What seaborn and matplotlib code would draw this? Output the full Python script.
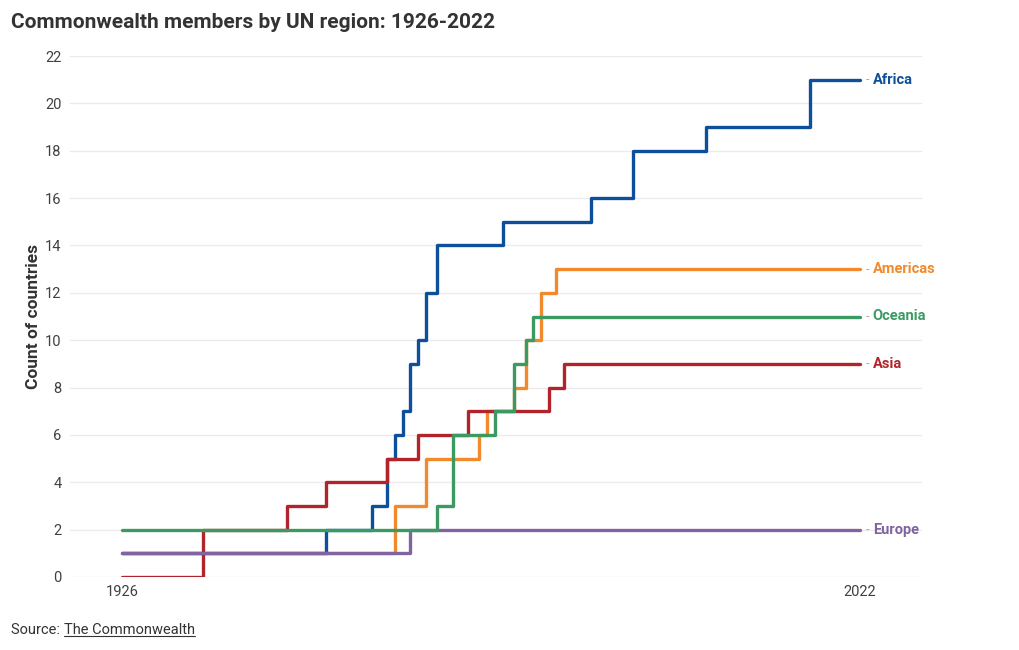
import matplotlib
matplotlib.use("Agg")
import matplotlib.pyplot as plt
import seaborn as sns
import pandas as pd
from matplotlib.lines import Line2D

# ---- data ----
years = [1926, 1947, 1948, 1957, 1960, 1961, 1962, 1963, 1964, 1965, 1966, 1968,
         1970, 1972, 1973, 1974, 1975, 1976, 1978, 1979, 1980, 1981, 1982, 1983,
         1984, 1990, 1995, 2009, 2022]
africa   = [1, 1, 1, 2, 3, 5, 6, 7, 9, 10, 12, 14, 14, 14, 14, 14, 14, 15, 15, 15,
            15, 15, 15, 15, 15, 16, 18, 19, 21]
americas = [1, 1, 1, 1, 1, 1, 3, 3, 3, 3, 5, 5, 5, 5, 6, 7, 7, 7, 8, 10, 10, 12,
            12, 13, 13, 13, 13, 13, 13]
oceania  = [2, 2, 2, 2, 2, 2, 2, 2, 2, 2, 2, 3, 6, 6, 6, 6, 7, 7, 9, 10, 11, 11,
            11, 11, 11, 11, 11, 11, 11]
asia     = [0, 2, 3, 4, 4, 5, 5, 5, 5, 6, 6, 6, 6, 7, 7, 7, 7, 7, 7, 7, 7, 7, 8,
            8, 9, 9, 9, 9, 9]
europe   = [1, 1, 1, 1, 1, 1, 1, 1, 2, 2, 2, 2, 2, 2, 2, 2, 2, 2, 2, 2, 2, 2, 2,
            2, 2, 2, 2, 2, 2]
regions = ["Africa", "Americas", "Oceania", "Asia", "Europe"]
series = [africa, americas, oceania, asia, europe]
draw_order = ["Africa", "Americas", "Asia", "Europe", "Oceania"]
y_ticks = [0, 2, 4, 6, 8, 10, 12, 14, 16, 18, 20, 22]
x_ticks = [1926, 2022]
title = "Commonwealth members by UN region: 1926-2022"
y_label = "Count of countries"

colors = {"Africa": "#0d4f9b", "Americas": "#f08a2c", "Oceania": "#3a9a62",
          "Asia": "#b2242b", "Europe": "#8064a0"}

rows = []
for name, vals in zip(regions, series):
    for yr, v in zip(years, vals):
        rows.append({"year": yr, "count": v, "region": name})
df = pd.DataFrame(rows)

sns.set_theme(style="white")
plt.rcParams["font.family"] = ["Roboto", "DejaVu Sans"]

fig = plt.figure(figsize=(10.2, 6.5), dpi=100)
ax = fig.add_axes([70 / 1020, 73 / 650, (922 - 70) / 1020, (577 - 56) / 650])

sns.lineplot(data=df, x="year", y="count", hue="region", palette=colors,
             hue_order=draw_order, estimator=None, drawstyle="steps-mid",
             linewidth=2.4, legend=False, ax=ax, zorder=3)

ax.set_xlim(1919.2, 2030.1)
ax.set_ylim(0, 22)
ax.set_yticks(y_ticks)
ax.set_xticks(x_ticks)
ax.set_xticklabels([str(t) for t in x_ticks])
ax.grid(axis="y", color="#ebebeb", linewidth=1)
ax.grid(axis="x", visible=False)
for s in ax.spines.values():
    s.set_visible(False)
ax.tick_params(axis="both", length=0, labelsize=10.5, labelcolor="#404040")
ax.tick_params(axis="y", pad=6)
ax.tick_params(axis="x", pad=6)
ax.set_xlabel("")
ax.set_ylabel(y_label, fontsize=12.5, fontweight="bold", color="#333333", labelpad=3)

# end labels
for name, vals in zip(regions, series):
    ax.annotate("-", xy=(years[-1], vals[-1]), xytext=(6, 0), textcoords="offset pixels",
                va="center", ha="left", fontsize=9, color="#aaaaaa")
    ax.annotate(name, xy=(years[-1], vals[-1]), xytext=(13, 0), textcoords="offset pixels",
                va="center", ha="left", fontsize=10.5, fontweight="bold", color=colors[name])

fig.text(11 / 1020, 1 - 22 / 650, title, fontsize=15, fontweight="bold",
         color="#333333", ha="left", va="center")

src = fig.text(11 / 1020, 1 - 630 / 650, "Source: ", fontsize=10.5, color="#333333",
               ha="left", va="center")
fig.canvas.draw()
r = fig.canvas.get_renderer()
bb = src.get_window_extent(r)
link = fig.text(bb.x1 / 1020, 1 - 630 / 650, "The Commonwealth", fontsize=10.5,
                color="#333333", ha="left", va="center")
fig.canvas.draw()
lb = link.get_window_extent(r)
fig.add_artist(Line2D([lb.x0 / 1020, lb.x1 / 1020], [(lb.y0 + 1) / 650, (lb.y0 + 1) / 650],
                      color="#333333", linewidth=0.8))

fig.savefig("out.png", dpi=100)
